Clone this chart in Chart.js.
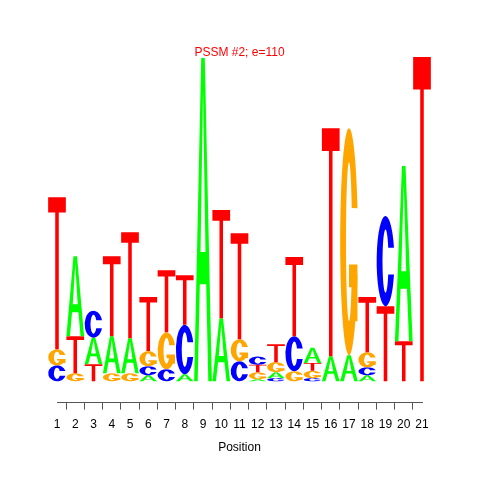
<!DOCTYPE html>
<html>
<head>
<meta charset="utf-8">
<title>PSSM #2</title>
<script src="https://cdn.jsdelivr.net/npm/chart.js@4.4.1/dist/chart.umd.min.js"></script>
<style>
  body { margin: 0; background: #fff; }
  #wrap { width: 480px; height: 480px; }
</style>
</head>
<body>
<div id="wrap"><canvas id="logo" width="480" height="480"></canvas></div>
<script>
// positions along the motif
const positions = [1, 2, 3, 4, 5, 6, 7, 8, 9, 10, 11, 12, 13, 14, 15, 16, 17, 18, 19, 20, 21];

// letter heights in bits
const bitsA = [0, 0.494, 0.164, 0.228, 0.216, 0.037, 0, 0.043, 1.994, 0.389, 0, 0.012, 0.037, 0, 0.093, 0.154, 0.160, 0.037, 0, 1.080, 0];
const bitsC = [0.098, 0, 0.166, 0, 0, 0.056, 0.074, 0.305, 0, 0, 0.123, 0.050, 0.019, 0.216, 0.019, 0, 0, 0.049, 0.556, 0, 0];
const bitsG = [0.099, 0.049, 0, 0.049, 0.049, 0.093, 0.228, 0, 0, 0, 0.136, 0.043, 0.062, 0.062, 0.046, 0, 1.401, 0.093, 0, 0, 0];
const bitsT = [0.938, 0.228, 0.105, 0.494, 0.654, 0.333, 0.383, 0.306, 0, 0.667, 0.654, 0.047, 0.111, 0.488, 0.048, 1.407, 0, 0.340, 0.463, 0.247, 2.0];

const titleText = 'PSSM #2; e=110';
const xTitle = 'Position';

const letterColors = { A: '#00ff00', C: '#0000ff', G: '#ffa500', T: '#ff0000' };

// sort the letters of every position, smallest at the bottom of the stack
const stacks = positions.map((p, i) => {
  const items = [
    { letter: 'A', value: bitsA[i] },
    { letter: 'C', value: bitsC[i] },
    { letter: 'G', value: bitsG[i] },
    { letter: 'T', value: bitsT[i] }
  ];
  return items.sort((a, b) => a.value - b.value);
});

// one dataset per rank in the stack
const datasets = [0, 1, 2, 3].map(rank => ({
  label: 'rank ' + rank,
  data: positions.map((p, i) => ({ x: p, y: stacks[i][rank].value })),
  letters: positions.map((p, i) => stacks[i][rank].letter),
  backgroundColor: 'rgba(0,0,0,0)',
  borderWidth: 0,
  barPercentage: 0.97,
  categoryPercentage: 1
}));

function polygon(ctx, pts, P) {
  pts.forEach((pt, k) => {
    const [px, py] = P(pt[0], pt[1]);
    if (k === 0) ctx.moveTo(px, py); else ctx.lineTo(px, py);
  });
  ctx.closePath();
}

function ringPath(ctx, L, B, w, h) {
  const cx = L + w / 2, cy = B - h / 2;
  const a = 0.17, b = 0.35;
  const s0 = Math.asin(0.148 / b);
  ctx.beginPath();
  ctx.ellipse(cx, cy, w / 2, h / 2, 0, -0.3, 0.3, true);
  ctx.ellipse(cx, cy, a * w, b * h, 0, s0, 2 * Math.PI - s0, false);
  ctx.closePath();
  ctx.fill();
}

function drawLetter(ctx, letter, L, B, w, h) {
  const P = (u, v) => [L + u * w, B - v * h];
  ctx.save();
  ctx.fillStyle = letterColors[letter];
  if (letter === 'T') {
    ctx.beginPath();
    polygon(ctx, [[0, 1], [1, 1], [1, 0.9], [0.6, 0.9], [0.6, 0], [0.4, 0], [0.4, 0.9], [0, 0.9]], P);
    ctx.fill();
  } else if (letter === 'A') {
    ctx.beginPath();
    polygon(ctx, [[0, 0], [0.4, 1], [0.6, 1], [1, 0], [0.8, 0], [0.68, 0.3], [0.32, 0.3], [0.2, 0]], P);
    polygon(ctx, [[0.36, 0.4], [0.5, 0.9], [0.64, 0.4]], P);
    ctx.fill('evenodd');
  } else {
    ringPath(ctx, L, B, w, h);
    if (letter === 'G') {
      ctx.beginPath();
      polygon(ctx, [[0.978, 0.4], [0.5, 0.4], [0.5, 0.3], [0.778, 0.3], [0.778, 0.15], [0.978, 0.15]], P);
      ctx.fill();
    }
  }
  ctx.restore();
}

// draws each letter into the box of its (invisible) bar
const logoLetters = {
  id: 'logoLetters',
  afterDatasetsDraw(chart) {
    const ctx = chart.ctx;
    chart.data.datasets.forEach((ds, di) => {
      const meta = chart.getDatasetMeta(di);
      meta.data.forEach((bar, i) => {
        const { x, y, base, width } = bar.getProps(['x', 'y', 'base', 'width'], true);
        const h = base - y;
        if (h < 0.5) return;
        drawLetter(ctx, ds.letters[i], x - width / 2, base, width, h);
      });
    });
  }
};

Chart.defaults.font.family = "'Liberation Sans', Arial, sans-serif";
Chart.defaults.font.size = 12;
Chart.defaults.color = '#000';

new Chart(document.getElementById('logo'), {
  type: 'bar',
  data: { datasets: datasets },
  options: {
    responsive: false,
    animation: false,
    devicePixelRatio: 1,
    layout: { padding: { left: 57, right: 58, top: 0, bottom: 25.5 } },
    plugins: {
      legend: { display: false },
      tooltip: { enabled: false },
      title: {
        display: true,
        text: titleText,
        color: '#ff0000',
        font: { size: 12, weight: 'normal' },
        padding: { top: 45, bottom: 0 }
      }
    },
    scales: {
      x: {
        type: 'linear',
        stacked: true,
        offset: false,
        min: 1,
        max: 21,
        ticks: { stepSize: 1, autoSkip: false, maxRotation: 0, padding: 8, color: '#000' },
        grid: { drawOnChartArea: false, drawTicks: true, tickLength: 7, color: '#555' },
        border: { display: true, color: '#555', width: 1 },
        title: { display: true, text: xTitle, color: '#000', font: { size: 12 }, padding: { top: 0.1, bottom: 0 } }
      },
      y: {
        stacked: true,
        display: false,
        min: -0.1315,
        max: 1.985
      }
    }
  },
  plugins: [logoLetters]
});
</script>
</body>
</html>
